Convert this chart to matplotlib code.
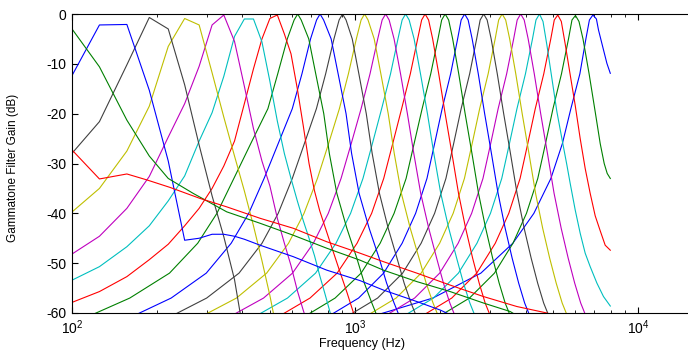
# gammatone.py
# Frequency response of a 24 channel gammatone filter bank (16 kHz, lowest cf 100 Hz)

import matplotlib
matplotlib.use('Agg')
import matplotlib.pyplot as plt

plt.rcParams['font.family'] = ['Liberation Sans', 'DejaVu Sans']
plt.rcParams['axes.unicode_minus'] = False
plt.rcParams['mathtext.default'] = 'regular'


# Values. Channels run from the highest centre
# frequency (ch01) to the lowest (ch24).

# dB levels used for the smooth high channels (left flank, peak, right flank)
std_db = [-61, -57, -52, -46, -40, -33, -26, -19, -12, -5, -1.2, 0,
          -1.2, -5, -12, -20, -28, -36, -43, -49, -54, -58, -61]

ch01_f = [1100, 1882, 2781, 3607, 4280, 4915, 5397, 5783, 6222, 6534, 6724, 6918, 7118, 7239, 7540, 7751, 7969]
ch01_db = [-61, -57, -52, -46, -40, -33, -26, -19, -12, -5, -1.2, -0.2, -1.0, -3.2, -7.2, -9.9, -11.9]

ch02_f = [1938, 2535, 3106, 3611, 4030, 4418, 4704, 5000, 5358, 5672, 5835, 6003, 6177, 6382, 6707, 7065, 7341, 7583, 7771, 7969]
ch02_db = [-61, -57, -52, -46, -40, -33, -26, -19, -12, -5, -1.2, -0.3, -1.5, -5, -12, -20, -26, -30, -32, -33]

ch03_f = [1678, 2195, 2689, 3127, 3490, 3826, 4073, 4329, 4639, 4911, 5053, 5199, 5350, 5521, 5751, 5989, 6238, 6497, 6767, 7048, 7341, 7645, 7969]
ch03_db = [-61, -57, -52, -46, -40, -33, -26, -19, -12, -5, -1.2, -0.2, -1.5, -6, -12.2, -18.3, -25, -31, -36, -40.5, -43.5, -46.4, -47.4]

ch04_f = [1446, 1891, 2317, 2694, 3007, 3296, 3509, 3730, 3997, 4232, 4354, 4480, 4610, 4757, 4955, 5161, 5375, 5598, 5751, 5989, 6238, 6497, 6767, 7146, 7540, 7969]
ch04_db = [-61, -57, -52, -46, -40, -33, -26, -19, -12, -5, -1.2, 0, -1.5, -6.2, -12.9, -19.6, -25, -30.3, -34, -39.3, -44, -48, -50.7, -54, -56.7, -58.6]

ch05_f = [1241, 1623, 1989, 2312, 2580, 2829, 3012, 3201, 3430, 3631, 3737, 3845, 3956, 4086, 4294, 4524, 4781, 5045, 5345, 5658, 5965, 6264, 6577]
ch06_f = [1067, 1396, 1711, 1989, 2220, 2433, 2591, 2754, 2951, 3124, 3214, 3307, 3403, 3515, 3694, 3892, 4113, 4340, 4598, 4867, 5132, 5388, 5658]
ch07_f = [918, 1201, 1472, 1711, 1909, 2093, 2229, 2369, 2539, 2687, 2765, 2845, 2927, 3024, 3178, 3348, 3538, 3733, 3955, 4187, 4414, 4635, 4867]
ch08_f = [787, 1029, 1261, 1466, 1636, 1794, 1909, 2030, 2175, 2302, 2369, 2437, 2508, 2591, 2723, 2868, 3031, 3199, 3389, 3587, 3782, 3971, 4170]
ch09_f = [650, 850, 1050, 1226, 1373, 1514, 1616, 1725, 1850, 1962, 2022, 2080, 2140, 2211, 2323, 2447, 2587, 2729, 2892, 3061, 3227, 3389, 3558]
ch10_f = [526, 693, 864, 1016, 1144, 1262, 1358, 1460, 1567, 1663, 1718, 1767, 1818, 1879, 1974, 2080, 2198, 2319, 2457, 2601, 2743, 2880, 3024]
ch11_f = [434, 577, 725, 856, 964, 1066, 1151, 1241, 1334, 1417, 1466, 1508, 1552, 1616, 1702, 1801, 1897, 2007, 2142, 2284, 2414, 2543, 2670]
ch12_f = [354, 475, 601, 712, 804, 892, 969, 1050, 1129, 1202, 1246, 1282, 1319, 1373, 1447, 1530, 1612, 1705, 1820, 1941, 2051, 2161, 2269]
ch13_f = [280, 381, 487, 582, 660, 736, 806, 880, 947, 1010, 1050, 1080, 1111, 1168, 1233, 1309, 1375, 1457, 1566, 1682, 1782, 1885, 1979]
ch14_f = [218, 299, 389, 469, 535, 600, 662, 730, 787, 842, 878, 903, 929, 977, 1031, 1095, 1149, 1219, 1309, 1406, 1490, 1576, 1655]
ch15_f = [159, 224, 298, 365, 421, 477, 535, 600, 649, 696, 731, 752, 774, 823, 871, 929, 972, 1033, 1121, 1216, 1292, 1373, 1442]
ch16_f = [111, 160, 221, 278, 325, 373, 428, 492, 533, 576, 609, 627, 645, 686, 726, 775, 811, 862, 935, 1014, 1078, 1146, 1203]

# low channels: the FFT bins show up as corners
ch17_f = [93.75, 125, 156.25, 187.5, 218.75, 250, 281.25, 312.5, 343.75, 375, 406.25, 437.5, 468.75,
          500, 531.25, 562.5, 593.75, 625, 656.25, 687.5, 718.75, 750, 812.5, 875, 937.5, 1000]
ch17_db = [-58.5, -55.7, -52.7, -49.3, -46.2, -42.5, -39, -35, -30.5, -25.5, -18, -11, -5,
           -0.9, -0.2, -4, -8, -15, -22.5, -30, -35.5, -39.5, -45.5, -51, -56, -61]

ch18_f = [93.75, 125, 156.25, 187.5, 218.75, 250, 281.25, 312.5, 343.75, 375, 406.25, 437.5, 468.75,
          500, 531.25, 562.5, 593.75, 625, 656.25, 687.5, 718.75, 750, 781.25, 812.5, 843.75]
ch18_db = [-54.2, -50.7, -46.7, -42.5, -37.5, -32.5, -25.5, -19.8, -12.5, -4.5, -1, -1, -5.6,
           -13.5, -21.5, -28, -33, -37.5, -41.5, -45, -48.5, -52.5, -56, -59.5, -63]

ch19_f = [93.75, 125, 156.25, 187.5, 218.75, 250, 281.25, 312.5, 343.75, 375, 406.25, 437.5, 468.75,
          500, 531.25, 562.5, 593.75, 625, 656.25, 687.5]
ch19_db = [-49.2, -44.6, -39, -32.6, -24.7, -18, -10.5, -2.2, -0.2, -5.5, -14.5, -23, -29.5,
           -34.5, -41, -46, -50.5, -55.5, -59.5, -63]

ch20_f = [93.75, 125, 156.25, 187.5, 218.75, 250, 281.25, 312.5, 343.75, 375, 406.25, 437.5, 468.75, 500, 531.25]
ch20_db = [-41.1, -35, -27.5, -18.5, -6.5, -0.9, -2.2, -11.8, -20.7, -28.5, -35.5, -42.5, -49.5, -56.5, -64]

ch21_f = [93.75, 125, 156.25, 187.5, 218.75, 250, 281.25, 312.5, 343.75, 375, 406.25]
ch21_db = [-29.8, -21.6, -10.2, -0.7, -3, -14.2, -26.3, -36.5, -44.7, -53.3, -65]

ch22_f = [93.75, 125, 156.25, 187.5, 218.75, 250, 281.25, 312.5, 343.75, 375, 406.25,
          462, 605, 794, 1041, 1259, 1652, 1997, 2300]
ch22_db = [-15.3, -2.2, -2.1, -15.3, -29.5, -45.4, -45, -44.2, -44.2, -44.6, -45.2,
           -46.4, -48.7, -51.4, -53.5, -55.4, -57.7, -59.4, -61]

ch23_f = [93.75, 125, 156.25, 187.5, 218.75, 268, 352, 462, 605, 794, 1041, 1259, 1652, 2166, 2841, 3529, 3800]
ch23_db = [-0.8, -10.6, -21.3, -28.5, -33, -36, -39.7, -42, -44.4, -47, -49.4, -51.4, -53.7, -55.7, -58, -59.7, -60.8]

ch24_f = [93.75, 125, 156.25, 184, 222, 283, 352, 462, 605, 794, 1041, 1259, 1652, 2166, 2841, 3727, 4758, 5300]
ch24_db = [-25.6, -33.1, -32.1, -33.3, -34.8, -37, -38.7, -41, -43, -45.7, -48, -49.7, -52, -54.4, -56.7, -58.7, -60, -61]

y_ticks = [-60, -50, -40, -30, -20, -10, 0]


curves = [(ch01_f, ch01_db), (ch02_f, ch02_db), (ch03_f, ch03_db), (ch04_f, ch04_db),
          (ch05_f, std_db), (ch06_f, std_db), (ch07_f, std_db), (ch08_f, std_db),
          (ch09_f, std_db), (ch10_f, std_db), (ch11_f, std_db), (ch12_f, std_db),
          (ch13_f, std_db), (ch14_f, std_db), (ch15_f, std_db), (ch16_f, std_db),
          (ch17_f, ch17_db), (ch18_f, ch18_db), (ch19_f, ch19_db), (ch20_f, ch20_db),
          (ch21_f, ch21_db), (ch22_f, ch22_db), (ch23_f, ch23_db), (ch24_f, ch24_db)]

# old matlab colour order: b g r c m y k
line_colors = [(0, 0, 1), (0, 0.5, 0), (1, 0, 0), (0, 0.75, 0.75),
               (0.75, 0, 0.75), (0.75, 0.75, 0), (0.25, 0.25, 0.25)]


fig = plt.figure(figsize=(6.88, 3.51), dpi=100)
# axes runs off the right edge, like the cropped original
ax = fig.add_axes([72/688, 38/351, 624/688, 299/351])

for i, (f, db) in enumerate(curves):
    ax.semilogx(f, db, color=line_colors[i % 7], lw=0.8)

ax.set_xlim(100, 16000)
ax.set_ylim(-60, 0)
ax.set_yticks(y_ticks)

ax.tick_params(which='both', direction='in', top=True, right=True, labelsize=10, pad=4)
ax.tick_params(which='major', length=4)
ax.tick_params(which='minor', length=2.5)
for s in ax.spines.values():
    s.set_linewidth(0.8)

ax.set_xlabel('Frequency (Hz)', fontsize=9)
ax.set_ylabel('Gammatone Filter Gain (dB)', fontsize=8.5)
ax.xaxis.set_label_coords(0.465, -0.083)
ax.yaxis.set_label_coords(-0.085, 0.485)

fig.savefig('out.png', dpi=100)
